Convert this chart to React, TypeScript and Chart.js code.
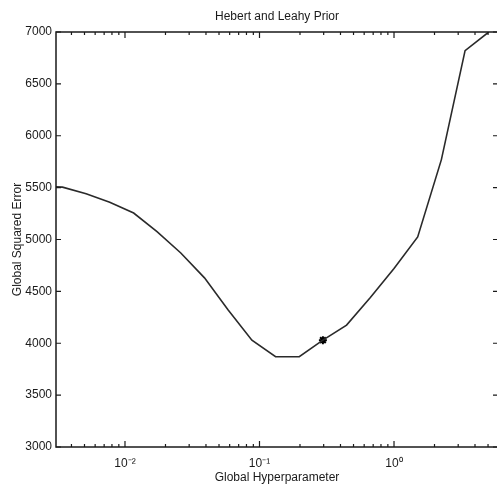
import React, { useEffect, useRef } from 'react';
import { Chart, registerables } from 'chart.js';

Chart.register(...registerables);

const TITLE = 'Hebert and Leahy Prior';
const X_TITLE = 'Global Hyperparameter';
const Y_TITLE = 'Global Squared Error';

const hyperparameter = [0.00228, 0.00343, 0.00514, 0.0077, 0.0116, 0.0173, 0.026, 0.039, 0.0585, 0.0878, 0.1317, 0.1975, 0.296, 0.444, 0.667, 1.0, 1.5, 2.25, 3.375, 5.06];
const squaredError = [5515, 5505, 5440, 5360, 5255, 5075, 4870, 4630, 4320, 4030, 3870, 3870, 4030, 4175, 4440, 4720, 5025, 5770, 6820, 7000];

const chosenX = [0.296];
const chosenY = [4030];

const X_MIN = 0.00307;
const X_MAX = 5.93;
const Y_MIN = 3000;
const Y_MAX = 7000;
const Y_STEP = 500;

const xMajorTicks = [0.01, 0.1, 1];
const xTickLabels = ['10⁻²', '10⁻¹', '10⁰'];
const xMinorMultipliers = [2, 3, 4, 5, 6, 7, 8, 9];
const xDecades = [0.001, 0.01, 0.1, 1];

const FONT = '"Liberation Sans", Arial, sans-serif';
const INK = '#1a1a1a';

const framePlugin = {
  id: 'matlabFrame',
  afterDraw(chart: any) {
    const { ctx, chartArea } = chart;
    const { left, right, top, bottom } = chartArea;
    const xs = chart.scales.x;
    const ys = chart.scales.y;
    ctx.save();
    ctx.strokeStyle = INK;
    ctx.lineWidth = 1.5;
    ctx.strokeRect(left, top, right - left, bottom - top);
    ctx.lineWidth = 1.2;
    ctx.beginPath();
    for (let v = Y_MIN; v <= Y_MAX; v += Y_STEP) {
      const y = ys.getPixelForValue(v);
      ctx.moveTo(left, y);
      ctx.lineTo(left + 5, y);
      ctx.moveTo(right, y);
      ctx.lineTo(right - 5, y);
    }
    const drawX = (v: number, len: number) => {
      if (v < X_MIN || v > X_MAX) return;
      const x = xs.getPixelForValue(v);
      ctx.moveTo(x, bottom);
      ctx.lineTo(x, bottom - len);
      ctx.moveTo(x, top);
      ctx.lineTo(x, top + len);
    };
    xDecades.forEach((d) => {
      drawX(d, 6);
      xMinorMultipliers.forEach((m) => drawX(d * m, 3));
    });
    ctx.stroke();
    ctx.fillStyle = INK;
    ctx.font = `12px ${FONT}`;
    ctx.textAlign = 'center';
    ctx.textBaseline = 'middle';
    ctx.fillText(TITLE, (left + right) / 2, 17);
    ctx.restore();
  },
};

export default function App() {
  const ref = useRef<HTMLCanvasElement | null>(null);
  useEffect(() => {
    if (!ref.current) return;
    const chart = new Chart(ref.current, {
      type: 'line',
      data: {
        datasets: [
          {
            data: hyperparameter.map((x, i) => ({ x, y: squaredError[i] })),
            borderColor: '#2a2a2a',
            borderWidth: 1.6,
            pointRadius: 0,
            fill: false,
            tension: 0,
          },
          {
            data: chosenX.map((x, i) => ({ x, y: chosenY[i] })),
            showLine: false,
            pointStyle: 'star',
            pointRadius: 4,
            borderWidth: 2,
            borderColor: '#000',
            backgroundColor: '#000',
          },
        ],
      },
      plugins: [framePlugin],
      options: {
        animation: false,
        responsive: false,
        layout: { padding: { top: 32, right: 2, left: 0, bottom: 0 } },
        plugins: { legend: { display: false }, tooltip: { enabled: false }, title: { display: false } },
        scales: {
          x: {
            type: 'logarithmic',
            min: X_MIN,
            max: X_MAX,
            grid: { display: false, drawTicks: false },
            border: { display: false },
            afterBuildTicks: (scale: any) => {
              scale.ticks = xMajorTicks.map((v) => ({ value: v, major: true }));
            },
            afterFit: (scale: any) => {
              scale.height = 40;
              scale.paddingLeft = 0;
              scale.paddingRight = 0;
            },
            ticks: {
              autoSkip: false,
              maxRotation: 0,
              padding: 9,
              color: INK,
              font: { family: FONT, size: 12 },
              callback: (v: any) => {
                const i = xMajorTicks.findIndex((t) => Math.abs(t - Number(v)) < t * 1e-6);
                return i >= 0 ? xTickLabels[i] : '';
              },
            },
            title: {
              display: true,
              text: X_TITLE,
              color: INK,
              font: { family: FONT, size: 12 },
              padding: { top: 0, bottom: 2 },
            },
          },
          y: {
            min: Y_MIN,
            max: Y_MAX,
            grid: { display: false, drawTicks: false },
            border: { display: false },
            afterFit: (scale: any) => {
              scale.width = 56;
            },
            ticks: {
              stepSize: Y_STEP,
              padding: 4,
              color: INK,
              font: { family: FONT, size: 12 },
              callback: (v: any) => String(v),
            },
            title: {
              display: true,
              text: Y_TITLE,
              color: INK,
              font: { family: FONT, size: 12 },
              padding: { top: 10, bottom: 0 },
            },
          },
        },
      },
    });
    return () => chart.destroy();
  }, []);
  return (
    <div style={{ position: 'absolute', left: 0, top: 0, width: 497, height: 487, overflow: 'hidden', background: '#fff' }}>
      <canvas ref={ref} width={504} height={487} />
    </div>
  );
}
